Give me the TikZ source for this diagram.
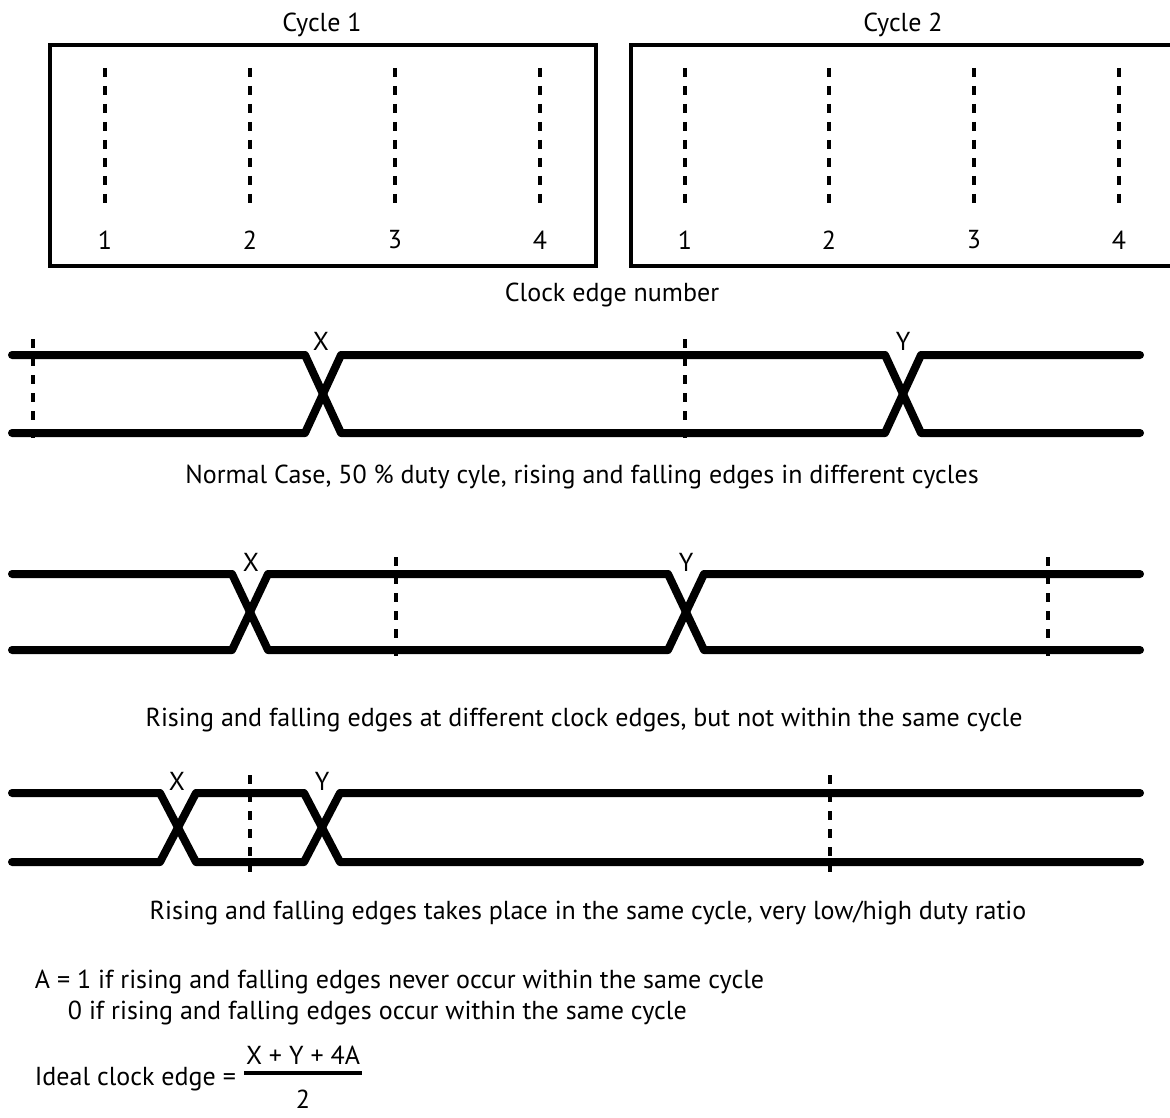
\documentclass[tikz,border=0pt]{standalone}
\usepackage{fontspec}
\setmainfont{PT Sans}
\usepackage{tikz}

\tikzset{
  cyclebox/.style={line width=2.2pt},
  clkedge/.style={line width=2pt, dash pattern=on 4.5pt off 4.5pt},
  sig/.style={line width=4pt, line cap=round, line join=round},
  lbl/.style={inner sep=0.75pt, font=\fontsize{13}{15}\selectfont},
  fracbar/.style={line width=2pt}
}

\begin{document}
\begin{tikzpicture}[x=0.5pt,y=0.5pt,yscale=-1,xscale=1]
\useasboundingbox (0,0) rectangle (1170,1117);

% clock edge boxes
\draw [cyclebox] (50,45) -- (596,45) -- (596,266) -- (50,266) -- cycle ;
\draw [cyclebox] (631,45) -- (1185,45) -- (1185,266) -- (631,266) -- cycle ;

\draw [clkedge] (105,68) -- (105,204) ;
\draw [clkedge] (250,68) -- (250,204) ;
\draw [clkedge] (395,68) -- (395,204) ;
\draw [clkedge] (540,68) -- (540,204) ;
\draw [clkedge] (685,68) -- (685,204) ;
\draw [clkedge] (829,68) -- (829,204) ;
\draw [clkedge] (974,68) -- (974,204) ;
\draw [clkedge] (1119,68) -- (1119,204) ;

\node [lbl] (cyc1) at (322,25) {Cycle 1};
\node [lbl] (cyc2) at (903,25) {Cycle 2};
\node [lbl] (e11) at (105,240) {1};
\node [lbl] (e12) at (250,240) {2};
\node [lbl] (e13) at (395,240) {3};
\node [lbl] (e14) at (540,240) {4};
\node [lbl] (e21) at (685,240) {1};
\node [lbl] (e22) at (829,240) {2};
\node [lbl] (e23) at (974,240) {3};
\node [lbl] (e24) at (1119,240) {4};
\node [lbl] (edgenum) at (612,295) {Clock edge number};

% normal case
\draw [clkedge] (33,339) -- (33,442) ;
\draw [clkedge] (685,339) -- (685,442) ;
\draw [sig] (12,355) -- (305,355) -- (341,433) -- (885,433) -- (921,355) -- (1140,355) ;
\draw [sig] (12,433) -- (305,433) -- (341,355) -- (885,355) -- (921,433) -- (1140,433) ;
\node [lbl] (xa) at (321,341) {X};
\node [lbl] (ya) at (903,341) {Y};
\node [lbl] (capa) at (582,477) {Normal Case, 50 \% duty cyle, rising and falling edges in different cycles};

% different clock edges
\draw [clkedge] (396,557) -- (396,658) ;
\draw [clkedge] (1048,557) -- (1048,658) ;
\draw [sig] (12,574) -- (232,574) -- (268,650) -- (668,650) -- (704,574) -- (1140,574) ;
\draw [sig] (12,650) -- (232,650) -- (268,574) -- (668,574) -- (704,650) -- (1140,650) ;
\node [lbl] (xb) at (251,562) {X};
\node [lbl] (yb) at (686,562) {Y};
\node [lbl] (capb) at (584,720) {Rising and falling edges at different clock edges, but not within the same cycle};

% same cycle
\draw [clkedge] (250,775) -- (250,872) ;
\draw [clkedge] (830,775) -- (830,872) ;
\draw [sig] (12,793) -- (160,793) -- (196,862) -- (304,862) -- (340,793) -- (1140,793) ;
\draw [sig] (12,862) -- (160,862) -- (196,793) -- (304,793) -- (340,862) -- (1140,862) ;
\node [lbl] (xc) at (177,781) {X};
\node [lbl] (yc) at (322,781) {Y};
\node [lbl] (capc) at (588,913) {Rising and falling edges takes place in the same cycle, very low/high duty ratio};

% formula
\node [lbl, anchor=west] (defa) at (33,982) {A = 1 if rising and falling edges never occur within the same cycle};
\node [lbl, anchor=west] (defb) at (66,1013) {0 if rising and falling edges occur within the same cycle};
\node [lbl, anchor=west] (ideal) at (33,1079) {Ideal clock edge =};
\node [lbl] (num) at (303,1055) {X + Y + 4A};
\node [lbl] (den) at (303,1099) {2};
\draw [fracbar] (num.south west |- 0,1073) -- (num.south east |- 0,1073) ;

\end{tikzpicture}
\end{document}
